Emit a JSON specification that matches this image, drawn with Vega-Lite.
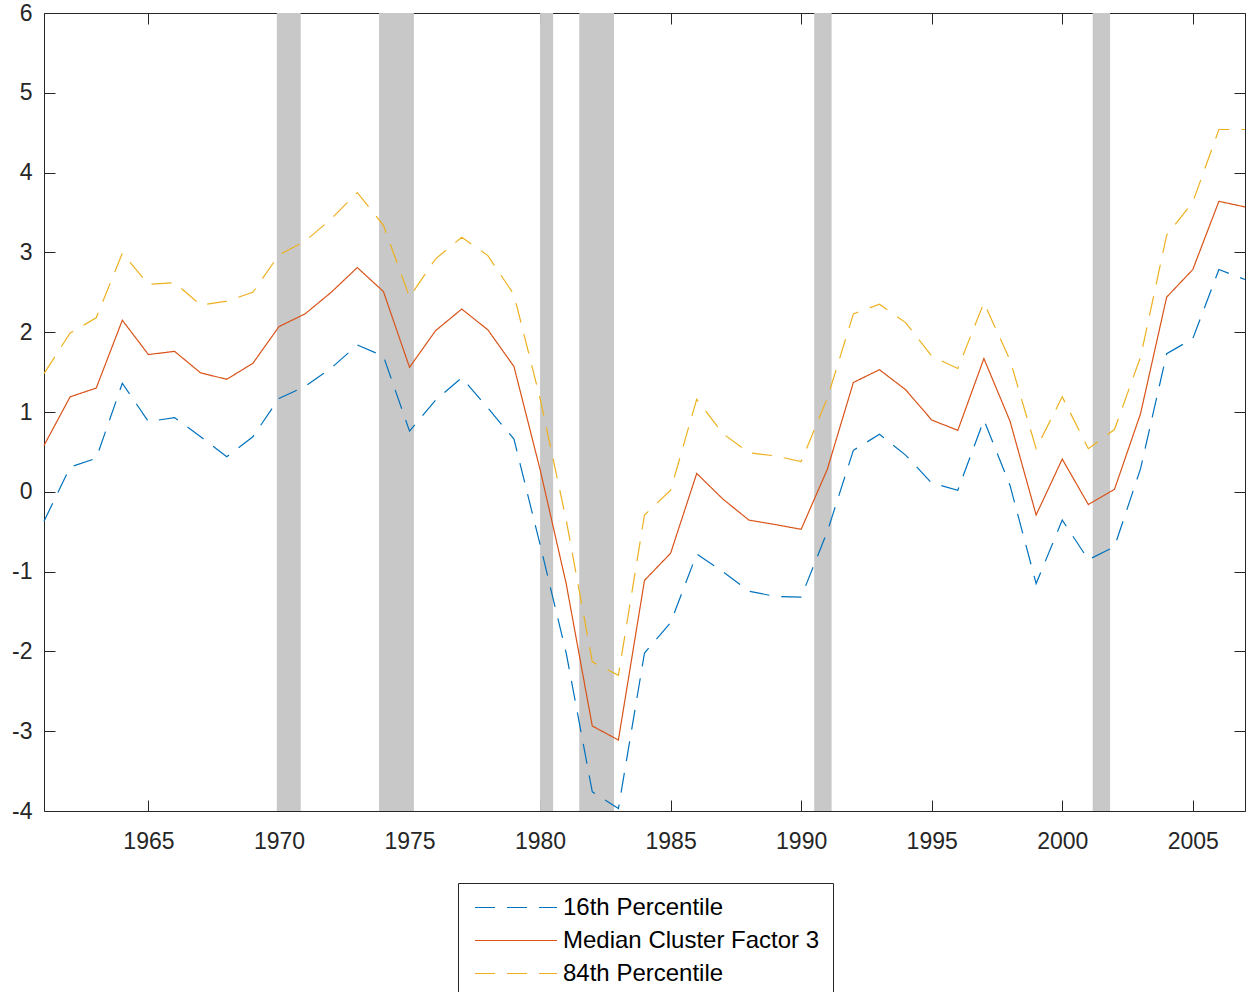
{
  "$schema": "https://vega.github.io/schema/vega-lite/v6.json",
  "width": 1201,
  "height": 798,
  "autosize": "none",
  "padding": {"left": 44, "top": 13, "right": 4, "bottom": 181},
  "background": "white",
  "config": {
    "font": "Liberation Sans",
    "view": {"stroke": "#262626", "strokeWidth": 1},
    "axis": {"grid": false, "domain": false, "tickColor": "#262626", "tickWidth": 1, "labelFont": "Liberation Sans", "labelFontSize": 23, "labelColor": "#262626", "title": null}
  },
  "datasets": {
    "recessions": [
      {"start": 1969.917, "end": 1970.833},
      {"start": 1973.833, "end": 1975.167},
      {"start": 1980.0, "end": 1980.5},
      {"start": 1981.5, "end": 1982.833},
      {"start": 1990.5, "end": 1991.167},
      {"start": 2001.167, "end": 2001.833}
    ],
    "series": [
      {"year": 1961, "series": "16th Percentile", "value": -0.37},
      {"year": 1962, "series": "16th Percentile", "value": 0.31},
      {"year": 1963, "series": "16th Percentile", "value": 0.42},
      {"year": 1964, "series": "16th Percentile", "value": 1.36},
      {"year": 1965, "series": "16th Percentile", "value": 0.88},
      {"year": 1966, "series": "16th Percentile", "value": 0.93},
      {"year": 1967, "series": "16th Percentile", "value": 0.69},
      {"year": 1968, "series": "16th Percentile", "value": 0.44},
      {"year": 1969, "series": "16th Percentile", "value": 0.69},
      {"year": 1970, "series": "16th Percentile", "value": 1.17},
      {"year": 1971, "series": "16th Percentile", "value": 1.32},
      {"year": 1972, "series": "16th Percentile", "value": 1.55},
      {"year": 1973, "series": "16th Percentile", "value": 1.84},
      {"year": 1974, "series": "16th Percentile", "value": 1.70},
      {"year": 1975, "series": "16th Percentile", "value": 0.76},
      {"year": 1976, "series": "16th Percentile", "value": 1.15},
      {"year": 1977, "series": "16th Percentile", "value": 1.43},
      {"year": 1978, "series": "16th Percentile", "value": 1.05},
      {"year": 1979, "series": "16th Percentile", "value": 0.66},
      {"year": 1980, "series": "16th Percentile", "value": -0.66},
      {"year": 1981, "series": "16th Percentile", "value": -2.02},
      {"year": 1982, "series": "16th Percentile", "value": -3.76},
      {"year": 1983, "series": "16th Percentile", "value": -3.97},
      {"year": 1984, "series": "16th Percentile", "value": -2.02},
      {"year": 1985, "series": "16th Percentile", "value": -1.64},
      {"year": 1986, "series": "16th Percentile", "value": -0.78},
      {"year": 1987, "series": "16th Percentile", "value": -1.00},
      {"year": 1988, "series": "16th Percentile", "value": -1.245},
      {"year": 1989, "series": "16th Percentile", "value": -1.31},
      {"year": 1990, "series": "16th Percentile", "value": -1.32},
      {"year": 1991, "series": "16th Percentile", "value": -0.50},
      {"year": 1992, "series": "16th Percentile", "value": 0.52},
      {"year": 1993, "series": "16th Percentile", "value": 0.72},
      {"year": 1994, "series": "16th Percentile", "value": 0.46},
      {"year": 1995, "series": "16th Percentile", "value": 0.11},
      {"year": 1996, "series": "16th Percentile", "value": 0.02},
      {"year": 1997, "series": "16th Percentile", "value": 0.90},
      {"year": 1998, "series": "16th Percentile", "value": 0.08},
      {"year": 1999, "series": "16th Percentile", "value": -1.15},
      {"year": 2000, "series": "16th Percentile", "value": -0.355},
      {"year": 2001, "series": "16th Percentile", "value": -0.85},
      {"year": 2002, "series": "16th Percentile", "value": -0.69},
      {"year": 2003, "series": "16th Percentile", "value": 0.29},
      {"year": 2004, "series": "16th Percentile", "value": 1.73},
      {"year": 2005, "series": "16th Percentile", "value": 1.92},
      {"year": 2006, "series": "16th Percentile", "value": 2.785},
      {"year": 2007, "series": "16th Percentile", "value": 2.66},
      {"year": 1961, "series": "Median Cluster Factor 3", "value": 0.58},
      {"year": 1962, "series": "Median Cluster Factor 3", "value": 1.19},
      {"year": 1963, "series": "Median Cluster Factor 3", "value": 1.30},
      {"year": 1964, "series": "Median Cluster Factor 3", "value": 2.15},
      {"year": 1965, "series": "Median Cluster Factor 3", "value": 1.72},
      {"year": 1966, "series": "Median Cluster Factor 3", "value": 1.76},
      {"year": 1967, "series": "Median Cluster Factor 3", "value": 1.49},
      {"year": 1968, "series": "Median Cluster Factor 3", "value": 1.41},
      {"year": 1969, "series": "Median Cluster Factor 3", "value": 1.61},
      {"year": 1970, "series": "Median Cluster Factor 3", "value": 2.07},
      {"year": 1971, "series": "Median Cluster Factor 3", "value": 2.23},
      {"year": 1972, "series": "Median Cluster Factor 3", "value": 2.50},
      {"year": 1973, "series": "Median Cluster Factor 3", "value": 2.81},
      {"year": 1974, "series": "Median Cluster Factor 3", "value": 2.51},
      {"year": 1975, "series": "Median Cluster Factor 3", "value": 1.56},
      {"year": 1976, "series": "Median Cluster Factor 3", "value": 2.02},
      {"year": 1977, "series": "Median Cluster Factor 3", "value": 2.29},
      {"year": 1978, "series": "Median Cluster Factor 3", "value": 2.03},
      {"year": 1979, "series": "Median Cluster Factor 3", "value": 1.57},
      {"year": 1980, "series": "Median Cluster Factor 3", "value": 0.28},
      {"year": 1981, "series": "Median Cluster Factor 3", "value": -1.15},
      {"year": 1982, "series": "Median Cluster Factor 3", "value": -2.935},
      {"year": 1983, "series": "Median Cluster Factor 3", "value": -3.11},
      {"year": 1984, "series": "Median Cluster Factor 3", "value": -1.11},
      {"year": 1985, "series": "Median Cluster Factor 3", "value": -0.77},
      {"year": 1986, "series": "Median Cluster Factor 3", "value": 0.23},
      {"year": 1987, "series": "Median Cluster Factor 3", "value": -0.09},
      {"year": 1988, "series": "Median Cluster Factor 3", "value": -0.355},
      {"year": 1989, "series": "Median Cluster Factor 3", "value": -0.41},
      {"year": 1990, "series": "Median Cluster Factor 3", "value": -0.47},
      {"year": 1991, "series": "Median Cluster Factor 3", "value": 0.28},
      {"year": 1992, "series": "Median Cluster Factor 3", "value": 1.37},
      {"year": 1993, "series": "Median Cluster Factor 3", "value": 1.53},
      {"year": 1994, "series": "Median Cluster Factor 3", "value": 1.28},
      {"year": 1995, "series": "Median Cluster Factor 3", "value": 0.90},
      {"year": 1996, "series": "Median Cluster Factor 3", "value": 0.77},
      {"year": 1997, "series": "Median Cluster Factor 3", "value": 1.67},
      {"year": 1998, "series": "Median Cluster Factor 3", "value": 0.885},
      {"year": 1999, "series": "Median Cluster Factor 3", "value": -0.29},
      {"year": 2000, "series": "Median Cluster Factor 3", "value": 0.41},
      {"year": 2001, "series": "Median Cluster Factor 3", "value": -0.16},
      {"year": 2002, "series": "Median Cluster Factor 3", "value": 0.03},
      {"year": 2003, "series": "Median Cluster Factor 3", "value": 0.98},
      {"year": 2004, "series": "Median Cluster Factor 3", "value": 2.44},
      {"year": 2005, "series": "Median Cluster Factor 3", "value": 2.785},
      {"year": 2006, "series": "Median Cluster Factor 3", "value": 3.64},
      {"year": 2007, "series": "Median Cluster Factor 3", "value": 3.57},
      {"year": 1961, "series": "84th Percentile", "value": 1.48},
      {"year": 1962, "series": "84th Percentile", "value": 1.99},
      {"year": 1963, "series": "84th Percentile", "value": 2.18},
      {"year": 1964, "series": "84th Percentile", "value": 2.99},
      {"year": 1965, "series": "84th Percentile", "value": 2.60},
      {"year": 1966, "series": "84th Percentile", "value": 2.62},
      {"year": 1967, "series": "84th Percentile", "value": 2.34},
      {"year": 1968, "series": "84th Percentile", "value": 2.39},
      {"year": 1969, "series": "84th Percentile", "value": 2.50},
      {"year": 1970, "series": "84th Percentile", "value": 2.97},
      {"year": 1971, "series": "84th Percentile", "value": 3.14},
      {"year": 1972, "series": "84th Percentile", "value": 3.42},
      {"year": 1973, "series": "84th Percentile", "value": 3.75},
      {"year": 1974, "series": "84th Percentile", "value": 3.34},
      {"year": 1975, "series": "84th Percentile", "value": 2.44},
      {"year": 1976, "series": "84th Percentile", "value": 2.92},
      {"year": 1977, "series": "84th Percentile", "value": 3.19},
      {"year": 1978, "series": "84th Percentile", "value": 2.96},
      {"year": 1979, "series": "84th Percentile", "value": 2.47},
      {"year": 1980, "series": "84th Percentile", "value": 1.17},
      {"year": 1981, "series": "84th Percentile", "value": -0.35},
      {"year": 1982, "series": "84th Percentile", "value": -2.13},
      {"year": 1983, "series": "84th Percentile", "value": -2.30},
      {"year": 1984, "series": "84th Percentile", "value": -0.29},
      {"year": 1985, "series": "84th Percentile", "value": 0.02},
      {"year": 1986, "series": "84th Percentile", "value": 1.16},
      {"year": 1987, "series": "84th Percentile", "value": 0.73},
      {"year": 1988, "series": "84th Percentile", "value": 0.49},
      {"year": 1989, "series": "84th Percentile", "value": 0.45},
      {"year": 1990, "series": "84th Percentile", "value": 0.38},
      {"year": 1991, "series": "84th Percentile", "value": 1.17},
      {"year": 1992, "series": "84th Percentile", "value": 2.23},
      {"year": 1993, "series": "84th Percentile", "value": 2.35},
      {"year": 1994, "series": "84th Percentile", "value": 2.12},
      {"year": 1995, "series": "84th Percentile", "value": 1.70},
      {"year": 1996, "series": "84th Percentile", "value": 1.545},
      {"year": 1997, "series": "84th Percentile", "value": 2.37},
      {"year": 1998, "series": "84th Percentile", "value": 1.65},
      {"year": 1999, "series": "84th Percentile", "value": 0.54},
      {"year": 2000, "series": "84th Percentile", "value": 1.19},
      {"year": 2001, "series": "84th Percentile", "value": 0.54},
      {"year": 2002, "series": "84th Percentile", "value": 0.78},
      {"year": 2003, "series": "84th Percentile", "value": 1.69},
      {"year": 2004, "series": "84th Percentile", "value": 3.215},
      {"year": 2005, "series": "84th Percentile", "value": 3.63},
      {"year": 2006, "series": "84th Percentile", "value": 4.54},
      {"year": 2007, "series": "84th Percentile", "value": 4.54}
    ]
  },
  "layer": [
    {
      "data": {"name": "recessions"},
      "mark": {"type": "rect", "fill": "#c8c8c8"},
      "encoding": {
        "x": {"field": "start", "type": "quantitative", "scale": {"domain": [1961, 2007], "nice": false, "zero": false},
              "axis": {"orient": "top", "values": [1965, 1970, 1975, 1980, 1985, 1990, 1995, 2000, 2005], "labels": false, "tickSize": -11}},
        "x2": {"field": "end"},
        "y": {"datum": 6, "type": "quantitative", "scale": {"domain": [-4, 6], "nice": false, "zero": false},
              "axis": {"orient": "right", "values": [-4, -3, -2, -1, 0, 1, 2, 3, 4, 5, 6], "labels": false, "tickSize": -11}},
        "y2": {"datum": -4}
      }
    },
    {
      "data": {"name": "series"},
      "mark": {"type": "line", "strokeWidth": 1.2},
      "encoding": {
        "x": {"field": "year", "type": "quantitative", "scale": {"domain": [1961, 2007], "nice": false, "zero": false},
              "axis": {"orient": "bottom", "values": [1965, 1970, 1975, 1980, 1985, 1990, 1995, 2000, 2005], "labelExpr": "'' + datum.value", "tickSize": -11, "labelPadding": 30}},
        "y": {"field": "value", "type": "quantitative", "scale": {"domain": [-4, 6], "nice": false, "zero": false},
              "axis": {"orient": "left", "values": [-4, -3, -2, -1, 0, 1, 2, 3, 4, 5, 6], "labelExpr": "'' + datum.value", "tickSize": -11, "labelPadding": 23}},
        "color": {"field": "series", "type": "nominal",
                  "scale": {"domain": ["16th Percentile", "Median Cluster Factor 3", "84th Percentile"], "range": ["#0072BD", "#D95319", "#EDB120"]},
                  "legend": {"orient": "none", "legendX": 414, "legendY": 870, "title": null, "symbolType": "stroke", "symbolSize": 6724, "symbolStrokeWidth": 1.2, "labelFontSize": 24, "labelFont": "Liberation Sans", "labelColor": "#000000", "labelLimit": 0, "strokeColor": "#262626", "fillColor": "#ffffff", "padding": 13, "clipHeight": 23, "rowPadding": 8, "labelOffset": 5, "symbolOffset": 3}},
        "strokeDash": {"field": "series", "type": "nominal",
                       "scale": {"domain": ["16th Percentile", "Median Cluster Factor 3", "84th Percentile"], "range": [[20, 12], [1, 0], [20, 12]]}}
      }
    }
  ],
  "resolve": {"axis": {"x": "independent", "y": "independent"}}
}
